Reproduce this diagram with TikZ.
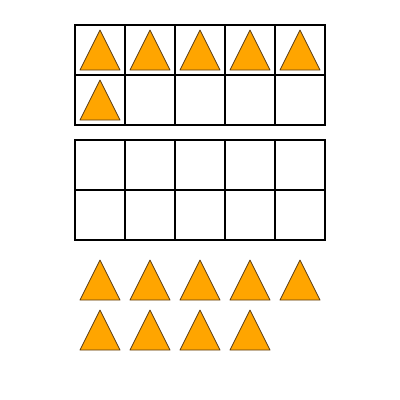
\documentclass[tikz,border=0pt]{standalone}
\begin{document}
\begin{tikzpicture}[x=1pt,y=-1pt,
  gridline/.style={line width=2pt,black},
  tri/.style={fill={rgb,255:red,255;green,165;blue,0},draw={rgb,255:red,90;green,60;blue,20},line width=0.8pt,line join=round}]
\useasboundingbox (0,0) rectangle (400,400);
\fill[white] (0,0) rectangle (400,400);
% grid 1
\draw[gridline] (75,25) rectangle (325,125);
\draw[gridline] (75,75) -- (325,75);
\foreach \x in {125,175,225,275} \draw[gridline] (\x,25) -- (\x,125);
% grid 2
\draw[gridline] (75,140) rectangle (325,240);
\draw[gridline] (75,190) -- (325,190);
\foreach \x in {125,175,225,275} \draw[gridline] (\x,140) -- (\x,240);
% triangles in grid 1
\foreach \x in {75,125,175,225,275}
  \draw[tri] (\x+5,70) -- (\x+45,70) -- (\x+25,30) -- cycle;
\draw[tri] (80,120) -- (120,120) -- (100,80) -- cycle;
% loose triangles
\foreach \x in {75,125,175,225,275}
  \draw[tri] (\x+5,300) -- (\x+45,300) -- (\x+25,260) -- cycle;
\foreach \x in {75,125,175,225}
  \draw[tri] (\x+5,350) -- (\x+45,350) -- (\x+25,310) -- cycle;
\end{tikzpicture}
\end{document}
